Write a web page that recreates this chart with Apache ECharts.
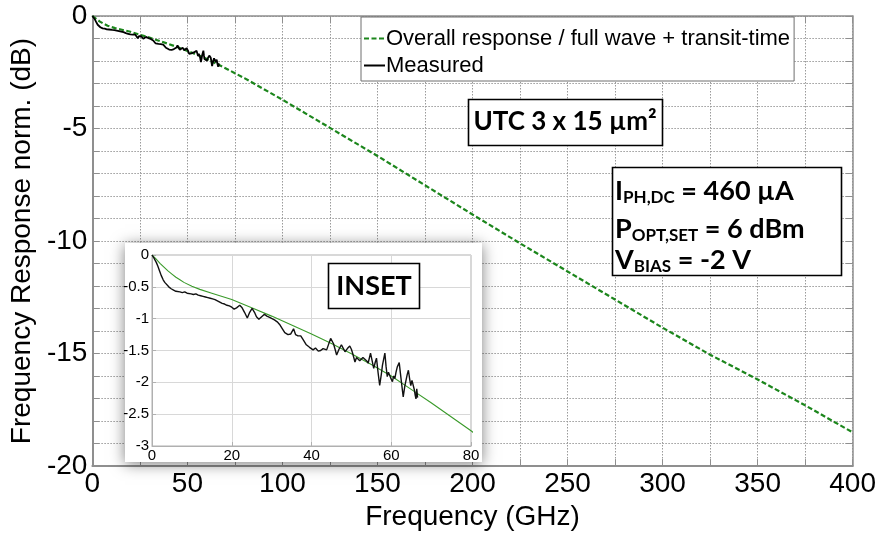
<!DOCTYPE html>
<html>
<head>
<meta charset="utf-8">
<script src="https://cdn.jsdelivr.net/npm/echarts@6/dist/echarts.min.js"></script>
<style>
  html, body { margin: 0; padding: 0; background: #fff; }
  #chart { width: 879px; height: 536px; }
</style>
</head>
<body>
<div id="chart"></div>
<script>
// Modelled overall response (full wave + transit-time), GHz / dB
const freqModel = [0, 1, 2, 3, 4, 5, 6, 7, 8, 10, 12, 15, 20, 25, 30, 35, 40, 45, 50, 55, 60, 65, 70, 75, 80,
  90, 100, 110, 125, 150, 175, 200, 225, 250, 275, 300, 325, 350, 375, 400];
const respModel = [0, -0.06, -0.13, -0.19, -0.25, -0.30, -0.35, -0.39, -0.43, -0.49, -0.54, -0.60, -0.70, -0.83,
  -0.96, -1.10, -1.24, -1.39, -1.55, -1.72, -1.90, -2.11, -2.32, -2.54, -2.76,
  -3.24, -3.72, -4.22, -4.97, -6.22, -7.52, -8.82, -10.10, -11.35, -12.60, -13.85, -15.05, -16.15, -17.30, -18.50];

// Measured normalised response, GHz / dB
const freqMeas = [0, 0.5, 1.1, 1.5, 1.9, 2.3, 2.8, 3.2, 3.6, 4.2, 4.8, 5.4, 6.0, 6.5, 7.0, 7.6, 8.2, 8.8, 9.3, 9.8,
  10.4, 11.0, 11.6, 12.2, 12.8, 13.4, 14.0, 14.6, 15.2, 15.8, 16.4, 17.0, 17.6, 18.2, 18.8, 19.4, 20.0, 20.6, 21.2, 22.0,
  22.6, 23.2, 23.9, 24.5, 25.1, 25.7, 26.2, 26.8, 27.5, 28.2, 28.8, 29.5, 30.1, 30.7, 31.4, 32.0, 32.7, 33.3, 34.1, 34.8,
  35.5, 36.0, 36.6, 37.3, 37.9, 38.7, 39.5, 40.4, 41.0, 41.7, 42.3, 42.9, 43.4, 43.8, 44.3, 44.8, 45.5, 46.0, 46.3, 46.9,
  47.5, 48.0, 48.4, 49.0, 49.6, 50.0, 50.3, 50.9, 51.3, 51.7, 52.1, 52.5, 52.9, 53.4, 53.8, 54.2, 54.8, 55.2, 55.6, 56.0,
  56.3, 56.7, 57.1, 57.5, 57.8, 58.4, 58.7, 59.0, 59.3, 59.6, 60.0, 60.3, 60.6, 60.9, 61.2, 61.5, 62.0, 62.3, 62.6, 63.0,
  63.4, 63.7, 64.0, 64.3, 64.6, 64.9, 65.2, 65.4, 65.8, 66.0, 66.2, 66.4, 66.6];
const respMeas = [0, -0.05, -0.12, -0.18, -0.25, -0.32, -0.39, -0.43, -0.46, -0.50, -0.53, -0.55, -0.57, -0.56, -0.58, -0.59, -0.58, -0.60, -0.59, -0.61,
  -0.62, -0.61, -0.63, -0.64, -0.65, -0.66, -0.67, -0.68, -0.69, -0.70, -0.72, -0.74, -0.76, -0.77, -0.79, -0.80, -0.82, -0.85, -0.83, -0.79,
  -0.83, -0.90, -0.99, -0.90, -0.84, -0.90, -0.97, -1.01, -0.97, -0.93, -0.96, -0.98, -1.00, -1.02, -1.05, -1.09, -1.16, -1.22, -1.25, -1.24,
  -1.16, -1.25, -1.27, -1.27, -1.33, -1.41, -1.45, -1.49, -1.46, -1.51, -1.50, -1.47, -1.50, -1.49, -1.40, -1.31, -1.39, -1.50, -1.57, -1.48,
  -1.41, -1.47, -1.52, -1.47, -1.43, -1.48, -1.54, -1.68, -1.61, -1.62, -1.66, -1.68, -1.61, -1.62, -1.66, -1.70, -1.54, -1.66, -1.78, -1.68,
  -1.62, -1.85, -2.05, -1.88, -1.73, -1.54, -1.75, -1.91, -1.84, -1.86, -1.95, -1.99, -1.90, -1.94, -1.84, -1.76, -1.69, -1.86, -2.02, -2.23,
  -2.06, -1.97, -1.88, -1.81, -1.94, -2.05, -1.97, -1.94, -2.12, -2.20, -2.26, -2.10, -2.24];

// Tick settings
const mainX = { min: 0, max: 400, step: 25, labelEvery: 50 };
const mainY = { min: -20, max: 0, step: 1, labelEvery: 5 };
const insetX = { min: 0, max: 80, step: 20 };
const insetY = { min: -3, max: 0, step: 0.5 };

const NAME_MODEL = 'Overall response / full wave + transit-time';
const NAME_MEAS = 'Measured';

const pairs = (xs, ys) => xs.map((x, i) => [x, ys[i]]);
const modelData = pairs(freqModel, respModel);
const measData = pairs(freqMeas, respMeas);

const ARIAL = '"Liberation Sans", Arial, sans-serif';
const BOLD = 'Lato, "Open Sans", sans-serif';
const GRID_GRAY = '#9a9a9a';
const FRAME_GRAY = '#8f8f8f';

const chart = echarts.init(document.getElementById('chart'), null, { renderer: 'canvas' });

// Bold annotation line with subscript part: [main, sub, rest]
function subLine(main, sub, rest) {
  return '{b|' + main + '}{s|' + sub + '}{b|' + rest + '}';
}
const boxRich = {
  b: { fontFamily: BOLD, fontWeight: 'bold', fontSize: 27, color: '#000', lineHeight: 28, verticalAlign: 'top' },
  s: { fontFamily: BOLD, fontWeight: 'bold', fontSize: 17, color: '#000', lineHeight: 17, verticalAlign: 'bottom', padding: [18, 0, 0, 0] }
};

const option = {
  backgroundColor: '#fff',
  animation: false,
  grid: [
    { left: 87, top: 16, right: 26, bottom: 61, show: false },
    { left: 152, top: 255, right: 408, bottom: 90, show: true, borderColor: '#b0b0b0', borderWidth: 1,
      backgroundColor: 'transparent', z: 6 }
  ],
  legend: {
    orient: 'vertical', left: 361, top: 17,
    padding: [9, 4, 3, 2], itemGap: 2, itemWidth: 21, itemHeight: 14,
    backgroundColor: '#fff', borderColor: '#6e6e6e', borderWidth: 1, borderRadius: 0,
    itemStyle: { opacity: 0 },
    textStyle: { fontFamily: ARIAL, fontSize: 22, color: '#000', lineHeight: 25, padding: [0, 0, 0, -4] },
    data: [NAME_MODEL, NAME_MEAS], z: 4
  },
  xAxis: [
    {
      type: 'value', gridIndex: 0, min: mainX.min, max: mainX.max, interval: mainX.step,
      name: 'Frequency (GHz)', nameLocation: 'middle', nameGap: 29,
      nameTextStyle: { fontFamily: ARIAL, fontSize: 28, color: '#000' },
      axisLine: { show: true, onZero: false, lineStyle: { color: FRAME_GRAY, width: 2 } },
      axisTick: { show: true, inside: true, length: 7, lineStyle: { color: FRAME_GRAY, width: 1 } },
      axisLabel: { fontFamily: ARIAL, fontSize: 28, color: '#000', margin: 4,
        formatter: v => (v % mainX.labelEvery === 0 ? String(v) : '') },
      splitLine: { show: true, lineStyle: { color: GRID_GRAY, width: 1, type: [1.5, 1.5] } }
    },
    {
      type: 'value', gridIndex: 0, position: 'top', min: mainX.min, max: mainX.max, interval: mainX.step,
      axisLine: { show: true, onZero: false, lineStyle: { color: FRAME_GRAY, width: 1.5 } },
      axisTick: { show: true, inside: true, length: 7, lineStyle: { color: FRAME_GRAY, width: 1 } },
      axisLabel: { show: false }, splitLine: { show: false }
    },
    {
      type: 'value', gridIndex: 1, min: insetX.min, max: insetX.max, interval: insetX.step, z: 6,
      axisLine: { show: true, onZero: false, lineStyle: { color: '#b0b0b0', width: 1 } },
      axisTick: { show: true, inside: true, length: 4, lineStyle: { color: '#b0b0b0' } },
      axisLabel: { fontFamily: ARIAL, fontSize: 15, color: '#000', margin: 2 },
      splitLine: { show: true, lineStyle: { color: '#d8d8d8', width: 1 } }
    }
  ],
  yAxis: [
    {
      type: 'value', gridIndex: 0, min: mainY.min, max: mainY.max, interval: mainY.step,
      name: 'Frequency Response norm. (dB)', nameLocation: 'middle', nameGap: 40, nameRotate: 90,
      nameTextStyle: { fontFamily: ARIAL, fontSize: 28, color: '#000' },
      axisLine: { show: true, onZero: false, lineStyle: { color: FRAME_GRAY, width: 2 } },
      axisTick: { show: true, inside: true, length: 7, lineStyle: { color: FRAME_GRAY, width: 1 } },
      axisLabel: { fontFamily: ARIAL, fontSize: 28, color: '#000', margin: 5,
        formatter: v => (v % mainY.labelEvery === 0 ? String(v) : '') },
      splitLine: { show: true, lineStyle: { color: GRID_GRAY, width: 1, type: [1.5, 1.5] } }
    },
    {
      type: 'value', gridIndex: 0, position: 'right', min: mainY.min, max: mainY.max, interval: mainY.step,
      axisLine: { show: true, onZero: false, lineStyle: { color: FRAME_GRAY, width: 1.5 } },
      axisTick: { show: true, inside: true, length: 7, lineStyle: { color: FRAME_GRAY, width: 1 } },
      axisLabel: { show: false }, splitLine: { show: false }
    },
    {
      type: 'value', gridIndex: 1, min: insetY.min, max: insetY.max, interval: insetY.step, z: 6,
      axisLine: { show: true, onZero: false, lineStyle: { color: '#b0b0b0', width: 1 } },
      axisTick: { show: true, inside: true, length: 4, lineStyle: { color: '#b0b0b0' } },
      axisLabel: { fontFamily: ARIAL, fontSize: 15, color: '#000', margin: 3 },
      splitLine: { show: true, lineStyle: { color: '#d8d8d8', width: 1 } }
    }
  ],
  series: [
    {
      name: NAME_MODEL, type: 'line', xAxisIndex: 0, yAxisIndex: 0, data: modelData,
      symbol: 'none', smooth: false, z: 3,
      lineStyle: { color: '#1c861c', width: 2.2, type: [5, 2.5] }, itemStyle: { color: '#1c861c' }
    },
    {
      name: NAME_MEAS, type: 'line', xAxisIndex: 0, yAxisIndex: 0, data: measData,
      symbol: 'none', z: 3,
      lineStyle: { color: '#000', width: 1.8 }, itemStyle: { color: '#000' }
    },
    {
      name: NAME_MODEL, type: 'line', xAxisIndex: 2, yAxisIndex: 2, data: modelData,
      symbol: 'none', z: 7, clip: true,
      lineStyle: { color: '#3a9a2a', width: 1.1 }
    },
    {
      name: NAME_MEAS, type: 'line', xAxisIndex: 2, yAxisIndex: 2, data: measData,
      symbol: 'none', z: 8, clip: true,
      lineStyle: { color: '#111', width: 1.4 }
    }
  ],
  graphic: { elements: [
    // inset panel with soft drop shadow
    { type: 'rect', z: 5, shape: { x: 125, y: 243, width: 357, height: 219 },
      style: { fill: '#fff', shadowBlur: 14, shadowColor: 'rgba(0,0,0,0.5)', shadowOffsetX: 0, shadowOffsetY: 2 } },
    // INSET tag
    { type: 'rect', z: 9, shape: { x: 328.5, y: 263.5, width: 91, height: 45 },
      style: { fill: '#fff', stroke: '#000', lineWidth: 1.6 } },
    { type: 'text', z: 10, x: 374, y: 286,
      style: { text: 'INSET', fontFamily: BOLD, fontWeight: 'bold', fontSize: 27, fill: '#000', align: 'center', verticalAlign: 'middle' } },
    // device label
    { type: 'rect', z: 9, shape: { x: 468.5, y: 99.5, width: 194, height: 46 },
      style: { fill: '#fff', stroke: '#000', lineWidth: 1.6 } },
    { type: 'text', z: 10, x: 565, y: 122,
      style: { text: 'UTC 3 x 15 µm²', fontFamily: BOLD, fontWeight: 'bold', fontSize: 26, fill: '#000', align: 'center', verticalAlign: 'middle' } },
    // operating conditions
    { type: 'rect', z: 9, shape: { x: 612.5, y: 167.5, width: 229, height: 108 },
      style: { fill: '#fff', stroke: '#000', lineWidth: 1.6 } },
    { type: 'text', z: 10, x: 615, y: 178, style: { text: subLine('I', 'PH,DC', ' = 460 µA'), rich: boxRich } },
    { type: 'text', z: 10, x: 615, y: 216, style: { text: subLine('P', 'OPT,SET', ' = 6 dBm'), rich: boxRich } },
    { type: 'text', z: 10, x: 615, y: 247, style: { text: subLine('V', 'BIAS', ' = -2 V'), rich: boxRich } }
  ] }
};

chart.setOption(option);
</script>
</body>
</html>
